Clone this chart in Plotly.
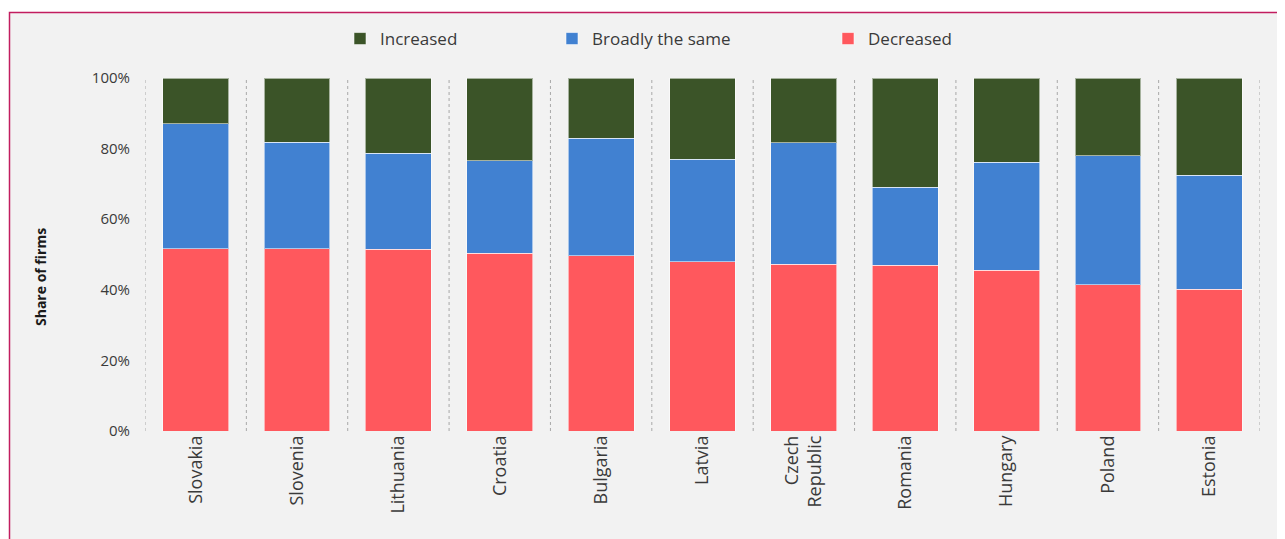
import plotly.graph_objects as go

countries = ["Slovakia", "Slovenia", "Lithuania", "Croatia", "Bulgaria", "Latvia",
             "Czech<br>Republic", "Romania", "Hungary", "Poland", "Estonia"]
decreased = [51.6, 51.6, 51.5, 50.3, 49.6, 47.9, 47.3, 47.0, 45.5, 41.5, 40.2]
broadly_same = [35.4, 30.2, 27.2, 26.2, 33.3, 29.1, 34.4, 22.1, 30.7, 36.5, 32.3]
increased = [13.0, 18.2, 21.3, 23.5, 17.1, 23.0, 18.3, 30.9, 23.8, 22.0, 27.5]
y_ticks = [0, 20, 40, 60, 80, 100]
y_tick_labels = ["0%", "20%", "40%", "60%", "80%", "100%"]

C_INC = "#3b5428"
C_SAME = "#4181d1"
C_DEC = "#ff585d"
TXT = "#3a3a3a"
FONT = "Open Sans"

fig = go.Figure()
line = dict(color="rgba(255,255,255,0.55)", width=1)
fig.add_trace(go.Bar(x=countries, y=decreased, name="Decreased", marker=dict(color=C_DEC, line=line),
                     legend="legend3"))
fig.add_trace(go.Bar(x=countries, y=broadly_same, name="Broadly the same", marker=dict(color=C_SAME, line=line),
                     legend="legend2"))
fig.add_trace(go.Bar(x=countries, y=increased, name="Increased", marker=dict(color=C_INC, line=line),
                     legend="legend"))

OFF = 8  # page body margin
W, H = 1285 - OFF, 539 - OFF
L, T = 145 - OFF, 78 - OFF
R = W - (1260 - OFF)
B = H - (431 - OFF)
pw, ph = W - L - R, H - T - B

def px_x(p):  # page pixel -> paper x
    return (p - OFF - L) / pw

def px_y(p):  # page pixel -> paper y
    return (H - B - (p - OFF)) / ph

shapes = [dict(type="rect", xref="paper", yref="paper",
               x0=px_x(9.5), x1=px_x(1300), y0=px_y(560), y1=px_y(12.5),
               fillcolor="#f2f2f2", line=dict(color="#c21d5f", width=1.5), layer="below")]
for i in range(len(countries) + 1):
    shapes.append(dict(type="line", xref="x", yref="paper", x0=i - 0.5, x1=i - 0.5, y0=0, y1=1,
                       line=dict(color="#a8a8a8", width=1, dash="dot"), layer="below"))

leg_common = dict(orientation="h", xanchor="left", y=px_y(39), yanchor="middle",
                  font=dict(family=FONT, size=17, color=TXT), bgcolor="rgba(0,0,0,0)",
                  itemwidth=30)

fig.update_layout(
    width=W, height=H,
    barmode="stack", bargap=0.35,
    paper_bgcolor="white", plot_bgcolor="rgba(0,0,0,0)",
    margin=dict(l=L, r=R, t=T, b=B, autoexpand=False),
    font=dict(family=FONT, color=TXT),
    showlegend=True,
    legend=dict(x=px_x(360 - 20), **leg_common),
    legend2=dict(x=px_x(572 - 20), **leg_common),
    legend3=dict(x=px_x(848 - 20), **leg_common),
    shapes=shapes,
    xaxis=dict(range=[-0.5, len(countries) - 0.5], showgrid=False, showline=False, zeroline=False,
               tickangle=-90, tickfont=dict(family=FONT, size=18, color=TXT), ticks=""),
    yaxis=dict(range=[0, 100], tickmode="array", tickvals=y_ticks, ticktext=y_tick_labels,
               showgrid=False, zeroline=False, showline=False, ticks="", ticklabelstandoff=14,
               tickfont=dict(family=FONT, size=15, color=TXT)),
    annotations=[dict(text="<b>Share of firms</b>", xref="paper", yref="paper",
                      x=px_x(40), y=px_y(277), xanchor="center", yanchor="middle",
                      textangle=-90, showarrow=False,
                      font=dict(family=FONT, size=14, color="#1a1a1a"))],
)

fig.write_html("out.html")
